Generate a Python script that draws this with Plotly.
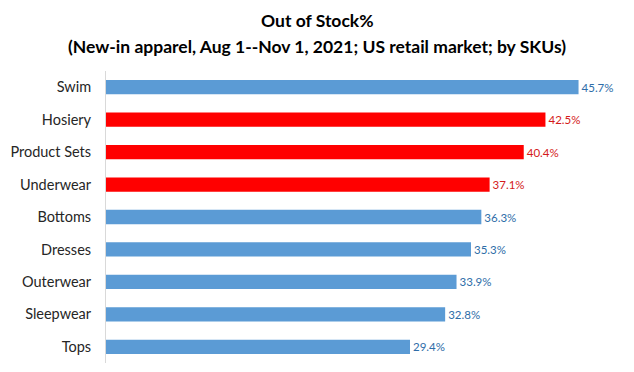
import plotly.graph_objects as go

categories = ["Swim", "Hosiery", "Product Sets", "Underwear", "Bottoms",
              "Dresses", "Outerwear", "Sleepwear", "Tops"]
values = [45.7, 42.5, 40.4, 37.1, 36.3, 35.3, 33.9, 32.8, 29.4]
highlight = [False, True, True, True, False, False, False, False, False]
title_lines = ["Out of Stock%",
               "(New-in apparel, Aug 1--Nov 1, 2021; US retail market; by SKUs)"]

BLUE = "#5B9BD5"
RED = "#FF0000"
BLUE_TXT = "#2E6DA8"
RED_TXT = "#D41A1A"

bar_colors = [RED if h else BLUE for h in highlight]
txt_colors = [RED_TXT if h else BLUE_TXT for h in highlight]
labels = [f"{v:.1f}%" for v in values]

fig = go.Figure(go.Bar(
    y=categories, x=values, orientation="h",
    marker=dict(color=bar_colors, line=dict(width=0)),
    width=0.44,
    text=labels, textposition="outside",
    textfont=dict(family="Lato", size=11.5, color=txt_colors),
    cliponaxis=False,
))

# page body adds an 8px margin; size the figure to fit the window
W, H = 626, 364
L, R, T, B = 98, 11, 63, 9
plot_w = W - L - R
plot_h = H - T - B
for line, ypix in zip(title_lines, [13, 38]):
    fig.add_annotation(
        text=f"<b>{line}</b>", xref="paper", yref="paper",
        x=(309 - L) / plot_w, y=(H - B - ypix) / plot_h,
        xanchor="center", yanchor="middle", showarrow=False,
        font=dict(family="Lato", size=17.5, color="#000000"),
    )

fig.update_layout(
    width=W, height=H,
    margin=dict(l=L, r=R, t=T, b=B, autoexpand=False),
    paper_bgcolor="white", plot_bgcolor="white",
    showlegend=False,
)
fig.update_xaxes(range=[0, 50], visible=False, showgrid=False, zeroline=False)
fig.update_yaxes(
    categoryorder="array", categoryarray=categories[::-1],
    showline=True, linecolor="#D9D9D9", linewidth=1,
    showgrid=False, zeroline=False, ticks="",
    ticklabelstandoff=11,
    tickfont=dict(family="Lato", size=14.5, color="#262626"),
)

fig.write_html("out.html")
